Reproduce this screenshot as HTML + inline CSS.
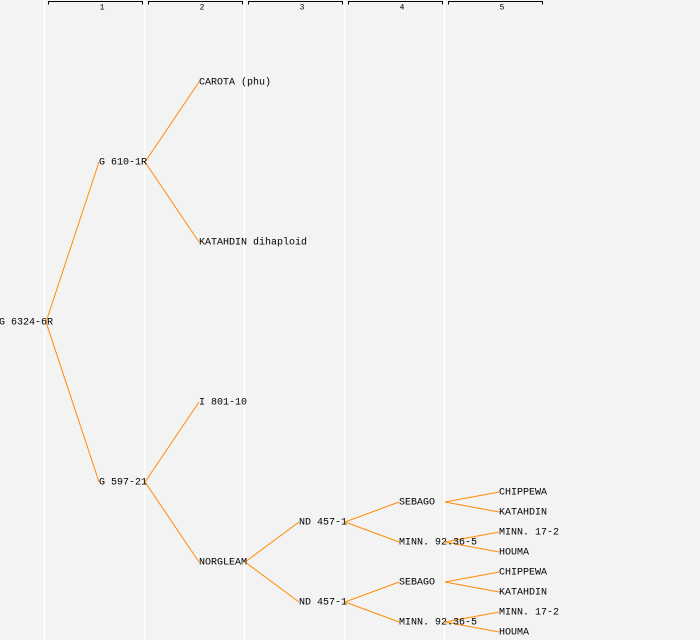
<!DOCTYPE html>
<html><head><style>
html,body{margin:0;padding:0;background:#f3f3f3;}
svg{display:block;}
text{font-family:"Liberation Mono","DejaVu Sans Mono",monospace;font-size:10px;fill:#000;dominant-baseline:central;}
.h{font-size:8px;text-anchor:middle;}
</style></head><body>
<svg width="700" height="640" xmlns="http://www.w3.org/2000/svg">
<rect width="700" height="640" fill="#f3f3f3"/>
<g stroke="#ffffff" stroke-width="1.5">
<line x1="44.5" y1="0" x2="44.5" y2="640"/><line x1="144.5" y1="0" x2="144.5" y2="640"/>
<line x1="244.5" y1="0" x2="244.5" y2="640"/><line x1="344.5" y1="0" x2="344.5" y2="640"/>
<line x1="444.5" y1="0" x2="444.5" y2="640"/>
</g>
<g stroke="#000" fill="none" stroke-width="1">
<path d="M48.5,4.5V1.5H142.5V4.5"/><path d="M148.5,4.5V1.5H242.5V4.5"/><path d="M248.5,4.5V1.5H342.5V4.5"/>
<path d="M348.5,4.5V1.5H442.5V4.5"/><path d="M448.5,4.5V1.5H542.5V4.5"/>
</g>
<g transform="translate(0,1)">
<text class="h" x="102" y="7">1</text><text class="h" x="202" y="7">2</text><text class="h" x="302" y="7">3</text><text class="h" x="402" y="7">4</text><text class="h" x="502" y="7">5</text>
</g>
<g stroke="#ff8c00" stroke-width="1" fill="none">
<line x1="46" y1="322" x2="99" y2="162"/><line x1="46" y1="322" x2="99" y2="482"/>
<line x1="145" y1="162" x2="199" y2="82"/><line x1="145" y1="162" x2="199" y2="242"/>
<line x1="145" y1="482" x2="199" y2="402"/><line x1="145" y1="482" x2="199" y2="562"/>
<line x1="245" y1="562" x2="299" y2="522"/><line x1="245" y1="562" x2="299" y2="602"/>
<line x1="345" y1="522" x2="399" y2="502"/><line x1="345" y1="522" x2="399" y2="542"/>
<line x1="345" y1="602" x2="399" y2="582"/><line x1="345" y1="602" x2="399" y2="622"/>
<line x1="445" y1="502" x2="499" y2="492"/><line x1="445" y1="502" x2="499" y2="512"/>
<line x1="445" y1="542" x2="499" y2="532"/><line x1="445" y1="542" x2="499" y2="552"/>
<line x1="445" y1="582" x2="499" y2="572"/><line x1="445" y1="582" x2="499" y2="592"/>
<line x1="445" y1="622" x2="499" y2="612"/><line x1="445" y1="622" x2="499" y2="632"/>
</g>
<g transform="translate(0,1)">
<text x="-1" y="322">G 6324-6R</text>
<text x="99" y="162">G 610-1R</text><text x="99" y="482">G 597-21</text>
<text x="199" y="82">CAROTA (phu)</text><text x="199" y="242">KATAHDIN dihaploid</text>
<text x="199" y="402">I 801-10</text><text x="199" y="562">NORGLEAM</text>
<text x="299" y="522">ND 457-1</text><text x="299" y="602">ND 457-1</text>
<text x="399" y="502">SEBAGO</text><text x="399" y="542">MINN. 92.36-5</text>
<text x="399" y="582">SEBAGO</text><text x="399" y="622">MINN. 92.36-5</text>
<text x="499" y="492">CHIPPEWA</text><text x="499" y="512">KATAHDIN</text>
<text x="499" y="532">MINN. 17-2</text><text x="499" y="552">HOUMA</text>
<text x="499" y="572">CHIPPEWA</text><text x="499" y="592">KATAHDIN</text>
<text x="499" y="612">MINN. 17-2</text><text x="499" y="632">HOUMA</text>
</g>
</svg>
</body></html>
